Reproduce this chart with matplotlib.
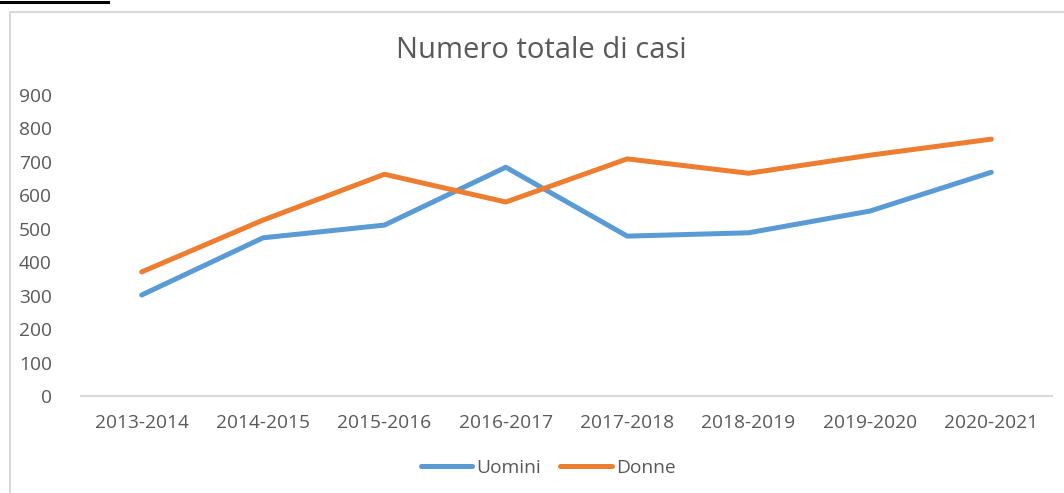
import matplotlib
matplotlib.use("Agg")
import matplotlib.pyplot as plt
from matplotlib.lines import Line2D
from matplotlib.patches import Rectangle

categories = ["2013-2014", "2014-2015", "2015-2016", "2016-2017",
              "2017-2018", "2018-2019", "2019-2020", "2020-2021"]
uomini = [302, 473, 511, 684, 478, 488, 553, 669]
donne = [371, 526, 663, 580, 709, 666, 720, 768]
yticks = [0, 100, 200, 300, 400, 500, 600, 700, 800, 900]

plt.rcParams['font.family'] = ['Open Sans', 'DejaVu Sans']
grey = '#595959'

fig = plt.figure(figsize=(10.64, 4.93), dpi=100)
ax = fig.add_axes([81/1064, 1 - 396/493, 971/1064, (396 - 95)/493])

x = list(range(len(categories)))
ax.plot(x, uomini, color='#5B9BD5', lw=3.6, solid_capstyle='round',
        solid_joinstyle='round', label='Uomini')
ax.plot(x, donne, color='#ED7D31', lw=3.6, solid_capstyle='round',
        solid_joinstyle='round', label='Donne')

ax.set_xlim(-0.5, len(categories) - 0.5)
ax.set_ylim(0, 900)
ax.set_xticks(x)
ax.set_xticklabels(categories)
ax.set_yticks(yticks)
ax.tick_params(axis='both', length=0, labelsize=13.8, labelcolor=grey)
ax.tick_params(axis='y', pad=21)
ax.tick_params(axis='x', pad=13)
for s in ['top', 'right', 'left']:
    ax.spines[s].set_visible(False)
ax.spines['bottom'].set_color('#d9d9d9')
ax.spines['bottom'].set_linewidth(1.5)

fig.text(541/1064, 1 - 51/493, "Numero totale di casi", ha='center', va='center',
         fontsize=21, color=grey)

leg = fig.legend(loc='center', bbox_to_anchor=(548/1064, 1 - 468/493), ncol=2,
                 frameon=False, fontsize=13.8, handlelength=2.7, handletextpad=0.2,
                 columnspacing=1.0, labelcolor=grey)

# chart frame
fig.add_artist(Rectangle((10/1064, -0.1), 1.2, 1 - 12/493 + 0.1,
                         transform=fig.transFigure, fill=False,
                         edgecolor='#d9d9d9', lw=1.5))
# black underline fragment at top-left
fig.add_artist(Line2D([0, 108/1064], [1 - 2/493, 1 - 2/493],
                      transform=fig.transFigure, color='black', lw=2.2))

fig.savefig("out.png", dpi=100)
